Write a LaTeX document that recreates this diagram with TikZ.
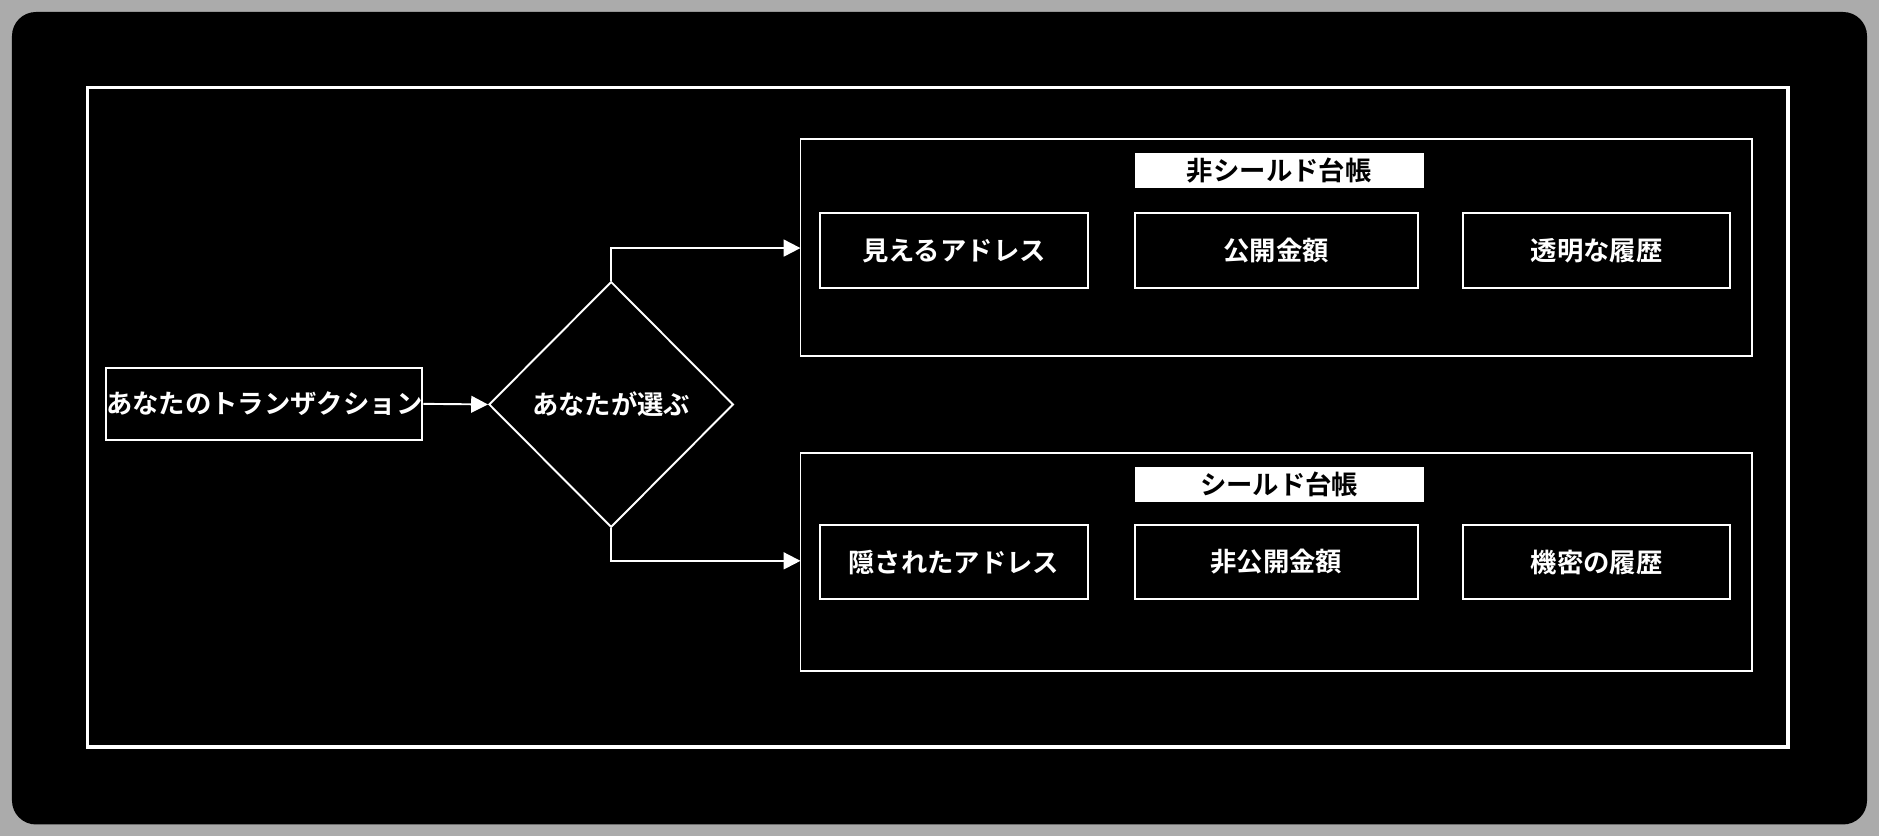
\documentclass[tikz,border=0pt]{standalone}
\usepackage{fontspec}
\setmainfont{Noto Sans CJK JP}[BoldFont={* Bold}]
\usetikzlibrary{shapes.geometric,arrows.meta}
\begin{document}
\begin{tikzpicture}[x=0.5pt,y=-0.5pt,
  box/.style={draw=white,line width=0.8pt,text=white,font=\bfseries\fontsize{11}{13}\selectfont,inner sep=0},
  grp/.style={draw=white,line width=0.8pt},
  ttl/.style={fill=white,text=black,font=\bfseries\fontsize{11}{13}\selectfont,inner sep=0},
  arr/.style={draw=white,line width=0.8pt,-{Triangle[length=7pt,width=7pt]}}]
\useasboundingbox (0,0) rectangle (1568,698);
\fill[black!33] (0,0) rectangle (1568,698);
\fill[black, rounded corners=10pt] (10,10) rectangle (1558,688);
\draw[white,line width=1.6pt] (73,73) rectangle (1492,623);
% transaction
\node[box,minimum width=118.5pt,minimum height=30pt] (tx) at (220.5,337) {あなたのトランザクション};
\node[box,diamond,minimum width=102pt,minimum height=102.5pt] (ch) at (510,337.5) {あなたが選ぶ};
\draw[arr] (tx.east) -- (ch.west);
% groups
\node[grp,minimum width=397pt,minimum height=90.5pt] (g1) at (1065,206.5) {};
\node[grp,minimum width=397pt,minimum height=91pt] (g2) at (1065,469) {};
\coordinate (e1) at (668,207);
\coordinate (e2) at (668,468);
\draw[arr] (ch.north) |- (e1);
\draw[arr] (ch.south) |- (e2);
\node[ttl,minimum width=120.5pt,minimum height=14.5pt] (t1) at (1067.5,142.5) {非シールド台帳};
\node[ttl,minimum width=120.5pt,minimum height=14.5pt] (t2) at (1067.5,404.5) {シールド台帳};
\foreach \n/\y/\a/\b/\c in {a/209/見えるアドレス/公開金額/透明な履歴, b/469/隠されたアドレス/非公開金額/機密の履歴}{
  \node[box,minimum width=112pt,minimum height=31pt] (\n1) at (796,\y) {\a};
  \node[box,minimum width=118pt,minimum height=31pt] (\n2) at (1065,\y) {\b};
  \node[box,minimum width=111.5pt,minimum height=31pt] (\n3) at (1332.5,\y) {\c};
}
\end{tikzpicture}
\end{document}
